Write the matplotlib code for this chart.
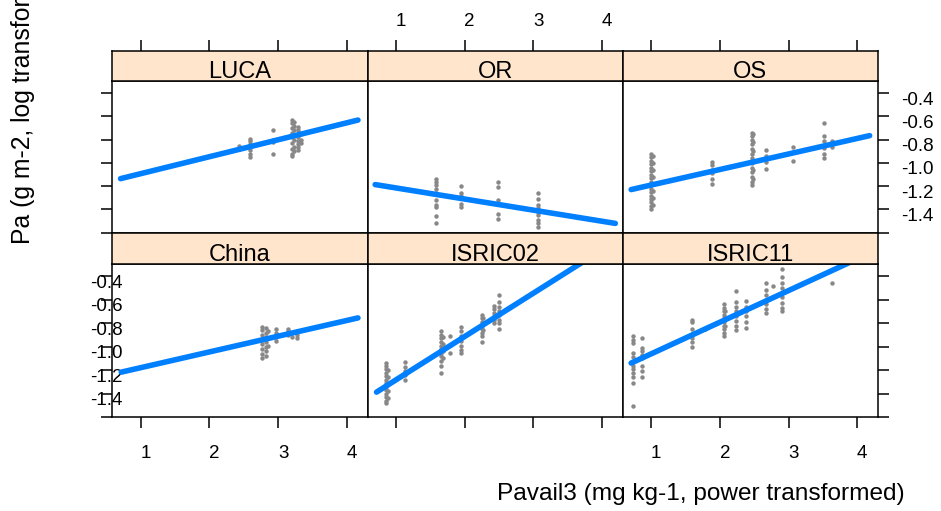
import matplotlib
matplotlib.use("Agg")
import matplotlib.pyplot as plt
from matplotlib.transforms import ScaledTranslation

plt.rcParams['font.family'] = ['Liberation Sans', 'DejaVu Sans']

# ---------------- data ----------------
panels = ["LUCA", "OR", "OS", "China", "ISRIC02", "ISRIC11"]
x_ticks = [1, 2, 3, 4]
y_ticks = [-1.6, -1.4, -1.2, -1.0, -0.8, -0.6, -0.4]
y_tick_labels = ["", "-1.4", "-1.2", "-1.0", "-0.8", "-0.6", "-0.4"]
x_label = "Pavail3 (mg kg-1, power transformed)"
y_label = "Pa (g m-2, log transformed)"

luca_stacks = [
    (2.43, [-0.85, -0.88]),
    (2.59, [-0.79, -0.81, -0.84, -0.86, -0.89, -0.92, -0.95]),
    (2.93, [-0.72, -0.80, -0.82, -0.92]),
    (3.20, [-0.63, -0.66, -0.70, -0.74, -0.78, -0.83, -0.88, -0.92, -0.94]),
    (3.23, [-0.65, -0.68, -0.72, -0.76, -0.80, -0.86, -0.90]),
    (3.29, [-0.69, -0.72, -0.75, -0.78, -0.81, -0.84, -0.86, -0.89]),
    (3.33, [-0.75, -0.80, -0.83]),
]
or_stacks = [
    (1.58, [-1.14, -1.16, -1.19, -1.22, -1.26, -1.32, -1.36, -1.38, -1.46, -1.52]),
    (1.95, [-1.20, -1.26, -1.28, -1.35, -1.38]),
    (2.48, [-1.16, -1.21, -1.32, -1.35, -1.44, -1.48]),
    (3.06, [-1.26, -1.31, -1.36, -1.39, -1.42, -1.45, -1.49, -1.52, -1.55]),
]
os_stacks = [
    (1.00, [-0.92, -0.95, -0.98, -1.01, -1.04, -1.07, -1.10, -1.13, -1.16, -1.19,
            -1.22, -1.25, -1.28, -1.31, -1.34, -1.37, -1.40]),
    (1.03, [-0.94, -1.00, -1.06, -1.12, -1.18, -1.24, -1.30, -1.36]),
    (1.89, [-0.99, -1.02, -1.06, -1.09, -1.14, -1.18]),
    (2.47, [-0.74, -0.77, -0.80, -0.84, -0.88, -0.92, -0.96, -1.00, -1.04, -1.08,
            -1.12, -1.16, -1.19]),
    (2.49, [-0.75, -0.82, -0.90, -0.98, -1.06, -1.14]),
    (2.67, [-0.89, -0.94, -0.99, -1.05]),
    (3.06, [-0.86, -0.91, -0.98]),
    (3.52, [-0.66, -0.77, -0.81, -0.87, -0.92, -0.96]),
    (3.63, [-0.81, -0.84, -0.86]),
]
china_stacks = [
    (2.77, [-0.83, -0.86, -0.90, -0.94, -0.98, -1.02, -1.06, -1.10]),
    (2.82, [-0.84, -0.88, -0.92, -0.96, -1.00, -1.04, -1.08]),
    (2.85, [-0.87, -0.93, -0.99]),
    (2.97, [-0.85, -0.88, -0.92, -0.95]),
    (3.14, [-0.85, -0.87, -0.90]),
    (3.20, [-0.88, -0.92]),
    (3.27, [-0.87, -0.90, -0.93]),
]
isric02_stacks = [
    (0.86, [-1.14, -1.16, -1.19, -1.22, -1.25, -1.28, -1.31, -1.34, -1.37, -1.40,
            -1.43, -1.46, -1.48]),
    (0.88, [-1.20, -1.26, -1.32, -1.38, -1.44]),
    (1.14, [-1.13, -1.17, -1.21, -1.24, -1.28]),
    (1.66, [-0.87, -0.90, -0.93, -0.96, -0.99, -1.02, -1.05, -1.08, -1.12, -1.16, -1.22]),
    (1.68, [-0.92, -0.98, -1.04, -1.10]),
    (1.79, [-0.91, -1.05]),
    (1.95, [-0.83, -0.87, -0.91, -0.95, -0.99, -1.03, -1.05]),
    (2.25, [-0.73, -0.76, -0.79, -0.82, -0.85, -0.88, -0.91, -0.96]),
    (2.27, [-0.76, -0.81, -0.86]),
    (2.43, [-0.65, -0.68, -0.71, -0.74, -0.77, -0.80]),
    (2.50, [-0.56, -0.62, -0.66, -0.70, -0.73, -0.77, -0.80, -0.85]),
]
isric11_stacks = [
    (0.73, [-0.91, -0.94, -0.97, -1.05, -1.09, -1.13, -1.16, -1.19, -1.22, -1.26, -1.31, -1.50]),
    (0.87, [-0.93, -1.01, -1.04, -1.07, -1.10, -1.16, -1.21, -1.26]),
    (1.60, [-0.77, -0.79, -0.85, -0.89, -0.93, -0.96, -1.00]),
    (1.79, [-0.85]),
    (2.06, [-0.64, -0.67, -0.70, -0.73, -0.76, -0.79, -0.82, -0.85, -0.88, -0.91]),
    (2.08, [-0.70, -0.76, -0.82]),
    (2.23, [-0.53, -0.62, -0.66, -0.70, -0.74, -0.78, -0.82, -0.86]),
    (2.38, [-0.61, -0.66, -0.70, -0.74, -0.79, -0.84]),
    (2.67, [-0.46, -0.52, -0.56, -0.60, -0.64, -0.68, -0.71]),
    (2.77, [-0.48]),
    (2.90, [-0.34, -0.41, -0.46, -0.50, -0.54, -0.58, -0.63, -0.67, -0.70]),
    (3.63, [-0.46]),
]

# fitted lines (end points)
fit_x = {
    "LUCA": [0.71, 4.16], "OR": [0.70, 4.19], "OS": [0.71, 4.18],
    "China": [0.72, 4.16], "ISRIC02": [0.72, 4.19], "ISRIC11": [0.71, 4.18],
}
fit_y = {
    "LUCA": [-1.135, -0.631], "OR": [-1.186, -1.52], "OS": [-1.229, -0.765],
    "China": [-1.216, -0.755], "ISRIC02": [-1.386, -0.105], "ISRIC11": [-1.139, -0.205],
}
stacks = {
    "LUCA": luca_stacks, "OR": or_stacks, "OS": os_stacks,
    "China": china_stacks, "ISRIC02": isric02_stacks, "ISRIC11": isric11_stacks,
}

# ---------------- layout ----------------
W, H = 941, 511
fig = plt.figure(figsize=(W / 100, H / 100), dpi=100)

def px_axes(left, top, right, bottom, **kw):
    return fig.add_axes([left / W, 1 - bottom / H, (right - left) / W, (bottom - top) / H], **kw)

col_edges = [(112.3, 367.6), (367.6, 622.9), (622.9, 877.9)]
rows = [  # (strip_top, panel_top, panel_bottom)
    (51.0, 81.0, 232.7),
    (232.7, 263.8, 417.3),
]
XLIM = (0.59, 4.30)
YLIM = (-1.6, -0.295)
LW = 1.1
TICKLEN = 8.0
TICKFS = 13.5
STRIPFS = 17
LABFS = 17.6
POINT_COL = "#888888"
LINE_COL = "#0080ff"
STRIP_COL = "#ffe5cc"

def style_spines(ax):
    for s in ax.spines.values():
        s.set_linewidth(LW)
        s.set_color("black")

down = ScaledTranslation(0, -5 / 100, fig.dpi_scale_trans)
right_shift = ScaledTranslation(5 / 100, 0, fig.dpi_scale_trans)

for r, (stop, ptop, pbot) in enumerate(rows):
    for c, (l, rgt) in enumerate(col_edges):
        name = panels[r * 3 + c]
        ax = px_axes(l, ptop, rgt, pbot)
        ax.set_xlim(*XLIM)
        ax.set_ylim(*YLIM)
        style_spines(ax)
        for x0, ys in stacks[name]:
            ax.plot([x0] * len(ys), ys, linestyle="none", marker="o",
                    markersize=3.2, color=POINT_COL, markeredgewidth=0)
        ax.plot(fit_x[name], fit_y[name], color=LINE_COL, linewidth=4,
                solid_capstyle="round")

        ax.set_xticks(x_ticks)
        ax.set_yticks(y_ticks)
        ax.set_yticklabels(y_tick_labels)
        ax.tick_params(axis="both", length=TICKLEN, width=LW, direction="out",
                       labelsize=TICKFS, colors="black")
        # x-axis
        if r == 1:
            ax.tick_params(axis="x", bottom=True, top=False,
                           labelbottom=(c != 1), labeltop=False, pad=12)
        else:
            ax.tick_params(axis="x", bottom=False, top=False,
                           labelbottom=False, labeltop=False)
        # y-axis
        ax.tick_params(axis="y", left=(c == 0), right=(c == 2),
                       labelleft=(c == 0 and r == 1),
                       labelright=(c == 2 and r == 0))
        if c == 0 and r == 1:
            ax.tick_params(axis="y", pad=-15.4)
        if c == 2 and r == 0:
            ax.tick_params(axis="y", pad=8.6)
        for t in ax.yaxis.get_major_ticks():
            for lab in (t.label1, t.label2):
                lab.set_transform(lab.get_transform() + down)
        for t in ax.xaxis.get_major_ticks():
            for lab in (t.label1, t.label2):
                lab.set_transform(lab.get_transform() + right_shift)

        # strip
        sax = px_axes(l, stop, rgt, ptop)
        sax.set_facecolor(STRIP_COL)
        sax.set_xlim(*XLIM)
        sax.set_ylim(0, 1)
        style_spines(sax)
        sax.set_yticks([])
        sax.text(0.5, 0.1, name, transform=sax.transAxes, ha="center",
                 va="baseline", fontsize=STRIPFS, color="black")
        if r == 0:
            sax.set_xticks(x_ticks)
            sax.tick_params(axis="x", top=True, bottom=False, labeltop=(c == 1),
                            labelbottom=False, length=TICKLEN, width=LW,
                            direction="out", labelsize=TICKFS, pad=7)
            for t in sax.xaxis.get_major_ticks():
                for lab in (t.label1, t.label2):
                    lab.set_transform(lab.get_transform() + right_shift)
        else:
            sax.set_xticks([])

fig.text(497 / W, 1 - 494 / H, x_label, ha="left", va="center", fontsize=LABFS)
fig.text(23 / W, 1 - 244 / H, y_label, rotation=90, ha="center", va="bottom",
         fontsize=17.8)

fig.savefig("out.png", dpi=100)
